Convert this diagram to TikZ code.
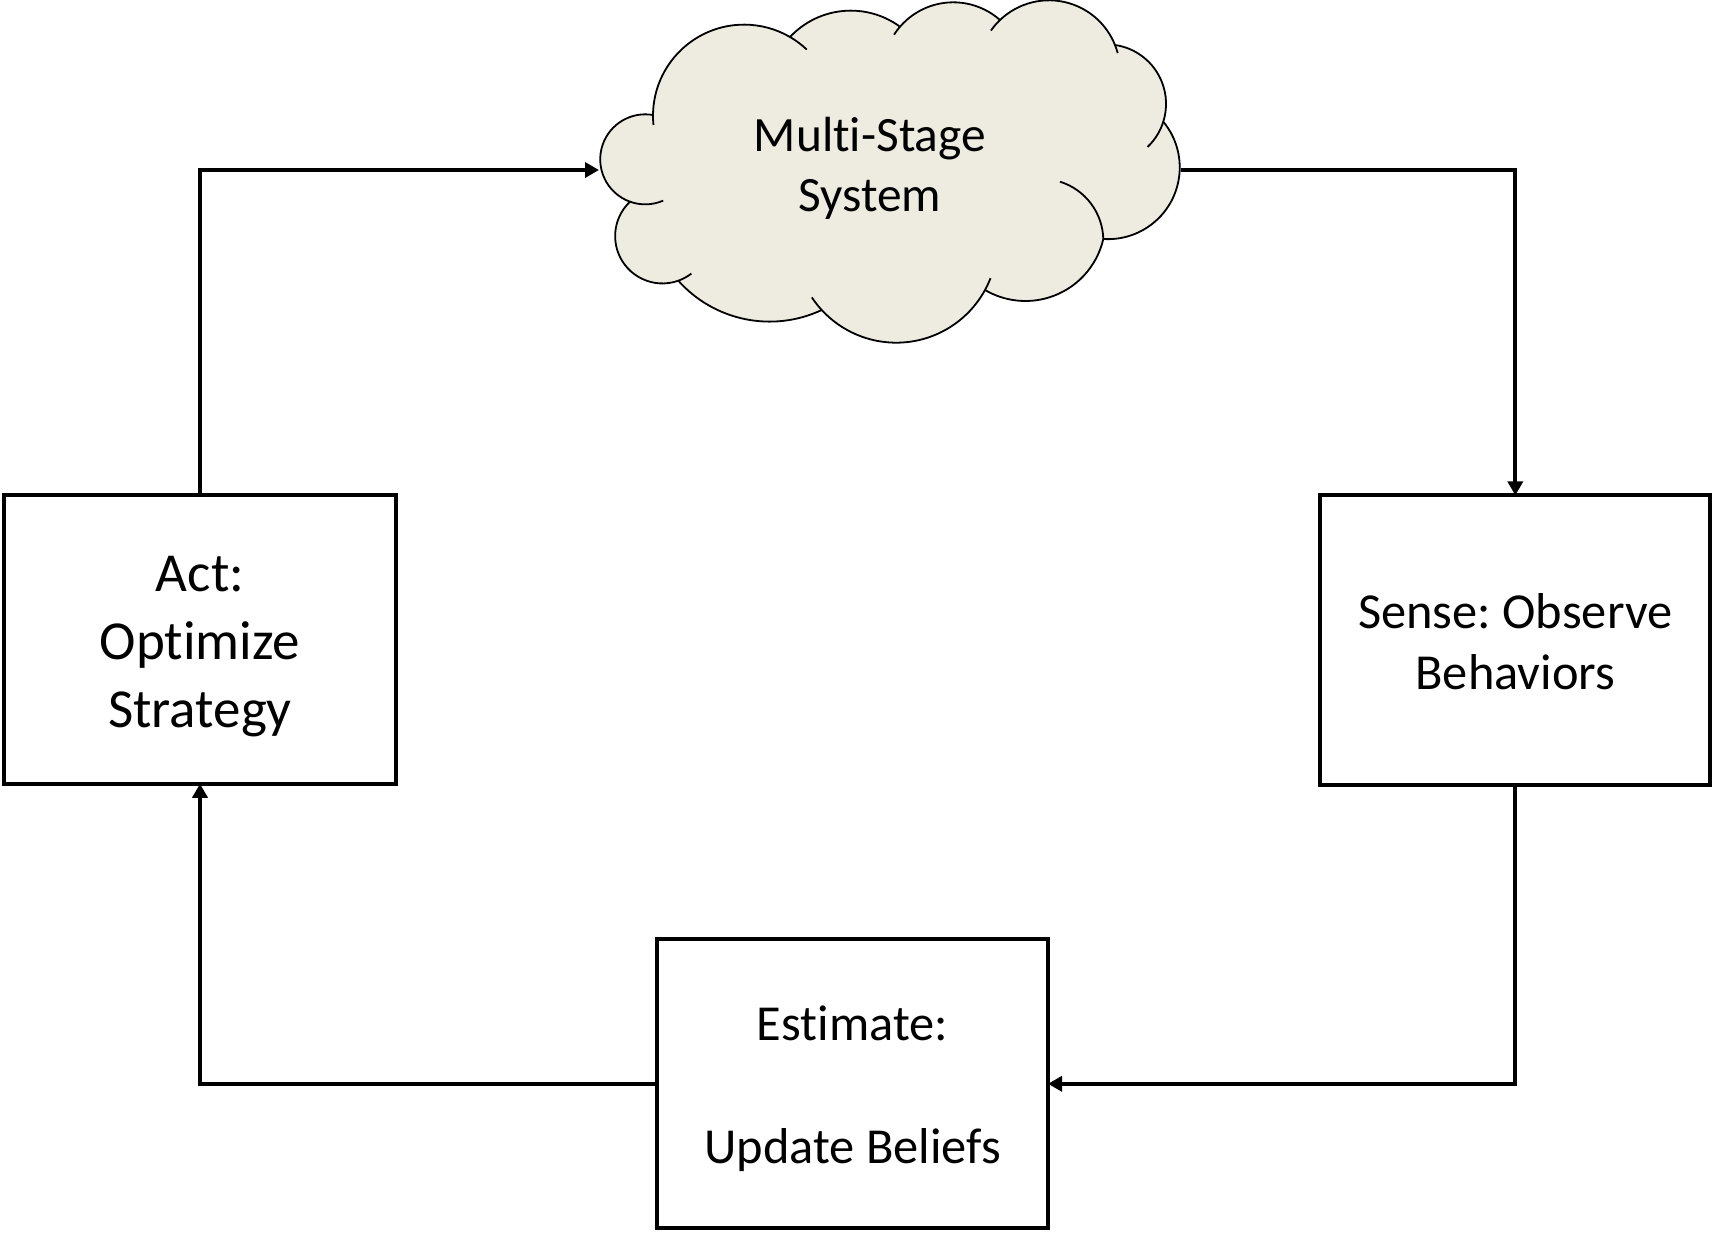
\documentclass[tikz,border=0pt]{standalone}
\usepackage{fontspec}
\setmainfont{Carlito}[Ligatures=CommonOff]
\usetikzlibrary{arrows.meta}
\definecolor{cloudfill}{HTML}{EEECE1}
\frenchspacing
% circle through three points (start, middle, end of a cloud lobe, in px);
% stores radius, start angle and end angle as \clr<name>, \clsa<name>, \clea<name>
\newcommand\cloudlobe[7]{%
  \pgfmathsetmacro\lbx{(#4-#2)/10}%
  \pgfmathsetmacro\lby{(#5-#3)/10}%
  \pgfmathsetmacro\lqx{(#6-#2)/10}%
  \pgfmathsetmacro\lqy{(#7-#3)/10}%
  \pgfmathsetmacro\lD{2*(\lbx*\lqy-\lby*\lqx)}%
  \pgfmathsetmacro\lbb{\lbx*\lbx+\lby*\lby}%
  \pgfmathsetmacro\lqq{\lqx*\lqx+\lqy*\lqy}%
  \pgfmathsetmacro\lux{(\lqy*\lbb-\lby*\lqq)/\lD}%
  \pgfmathsetmacro\luy{(\lbx*\lqq-\lqx*\lbb)/\lD}%
  \pgfmathsetmacro\lr{10*sqrt(\lux*\lux+\luy*\luy)}%
  \pgfmathsetmacro\lsa{atan2(0-(\luy),0-(\lux))}%
  \pgfmathsetmacro\lea{atan2(\lqy-(\luy),\lqx-(\lux))}%
  \pgfmathsetmacro\lea{ifthenelse(\lea<\lsa,\lea+360,\lea)}%
  \expandafter\xdef\csname clr#1\endcsname{\lr}%
  \expandafter\xdef\csname clsa#1\endcsname{\lsa}%
  \expandafter\xdef\csname clea#1\endcsname{\lea}%
}
\begin{document}
\begin{tikzpicture}[x=0.5pt,y=-0.5pt,
  stagebox/.style={draw=black,line width=2pt,fill=white,rectangle,align=center,
    inner sep=0pt,outer sep=0pt},
  conn/.style={draw=black,line width=2pt,line join=miter},
  tip/.style={-{Triangle[length=7pt,width=7.5pt]}},
  cloudline/.style={draw=black,line width=0.9pt},
  bodytext/.style={font=\fontsize{25.2}{30.5}\selectfont},
]
\useasboundingbox (0,0) rectangle (1713,1232);

% lobes of the cloud, clockwise from the upper left
\cloudlobe{A}{653}{115}{695}{39}{790}{37}
\cloudlobe{B}{790}{37}{843}{11}{900}{26.7}
\cloudlobe{C}{900}{26.7}{948}{2.5}{1000}{20}
\cloudlobe{D}{1000}{20}{1062}{1.5}{1115}{45}
\cloudlobe{E}{1115}{45}{1158}{74}{1163.3}{121.7}
\cloudlobe{F}{1163.3}{121.7}{1175}{193}{1103.3}{239}
\cloudlobe{G}{1103.3}{239}{1057}{294.5}{985}{290}
\cloudlobe{H}{985}{290}{908}{342}{821.7}{310}
\cloudlobe{I}{821.7}{310}{747}{319.5}{678.3}{280.7}
\cloudlobe{J}{678.3}{280.7}{620}{257}{630}{201.7}
\cloudlobe{K}{630}{201.7}{601}{151}{653}{115}
% the long inner arc on the right
\cloudlobe{T}{1060}{181.7}{1092}{205}{1103.3}{239}

\filldraw[cloudline,fill=cloudfill,line join=round]
  (653,115) arc[start angle=\clsaA, end angle=\cleaA, radius=\clrA]
  -- (790,37) arc[start angle=\clsaB, end angle=\cleaB, radius=\clrB]
  -- (900,26.7) arc[start angle=\clsaC, end angle=\cleaC, radius=\clrC]
  -- (1000,20) arc[start angle=\clsaD, end angle=\cleaD, radius=\clrD]
  -- (1115,45) arc[start angle=\clsaE, end angle=\cleaE, radius=\clrE]
  -- (1163.3,121.7) arc[start angle=\clsaF, end angle=\cleaF, radius=\clrF]
  -- (1103.3,239) arc[start angle=\clsaG, end angle=\cleaG, radius=\clrG]
  -- (985,290) arc[start angle=\clsaH, end angle=\cleaH, radius=\clrH]
  -- (821.7,310) arc[start angle=\clsaI, end angle=\cleaI, radius=\clrI]
  -- (678.3,280.7) arc[start angle=\clsaJ, end angle=\cleaJ, radius=\clrJ]
  -- (630,201.7) arc[start angle=\clsaK, end angle=\cleaK, radius=\clrK]
  -- cycle;

% inner arcs of the cloud: short continuations of the lobes past their cusps
\draw[cloudline] (790,37) arc[start angle=\cleaA, delta angle={21/\clrA*57.3}, radius=\clrA];
\draw[cloudline] (900,26.7) arc[start angle=\clsaC, delta angle={-10/\clrC*57.3}, radius=\clrC];
\draw[cloudline] (1000,20) arc[start angle=\clsaD, delta angle={-14/\clrD*57.3}, radius=\clrD];
\draw[cloudline] (1115,45) arc[start angle=\cleaD, delta angle={8.5/\clrD*57.3}, radius=\clrD];
\draw[cloudline] (1163.3,121.7) arc[start angle=\cleaE, delta angle={30/\clrE*57.3}, radius=\clrE];
\draw[cloudline] (1060,181.7) arc[start angle=\clsaT, end angle=\cleaT, radius=\clrT];
\draw[cloudline] (985,290) arc[start angle=\clsaH, delta angle={-13/\clrH*57.3}, radius=\clrH];
\draw[cloudline] (821.7,310) arc[start angle=\cleaH, delta angle={16/\clrH*57.3}, radius=\clrH];
\draw[cloudline] (678.3,280.7) arc[start angle=\clsaJ, delta angle={-15/\clrJ*57.3}, radius=\clrJ];
\draw[cloudline] (630,201.7) arc[start angle=\clsaK, delta angle={-34/\clrK*57.3}, radius=\clrK];
\draw[cloudline] (653,115) arc[start angle=\clsaA, delta angle={-10/\clrA*57.3}, radius=\clrA];

\node[font=\fontsize{24.7}{30}\selectfont,align=center] (sys) at (870,168) {Multi-Stage\\System};
\coordinate (cloudL) at (599,170);
\coordinate (cloudR) at (1181,170);

% the three stages
\node[stagebox,minimum width=196.3pt,minimum height=144.25pt,
      font=\fontsize{27.5}{34}\selectfont] (act) at (200,639.5)
  {\rule{0pt}{25pt}Act:\\Optimize\\Strategy};
\node[stagebox,bodytext,minimum width=195pt,minimum height=144.6pt] (sense) at (1515.3,640)
  {\rule{0pt}{19pt}Sense: Observe\\Behaviors};
\node[stagebox,bodytext,minimum width=195.5pt,minimum height=144.5pt] (est) at (852.5,1083.8)
  {\rule{0pt}{22pt}Estimate:\\[31pt]Update Beliefs};

% feedback loop
\draw[conn,tip] (act.north) |- (cloudL);
\draw[conn,tip] (cloudR) -| (sense.north);
\draw[conn,tip] (sense.south) |- (est.east);
\draw[conn,tip] (est.west) -| (act.south);
\end{tikzpicture}
\end{document}
